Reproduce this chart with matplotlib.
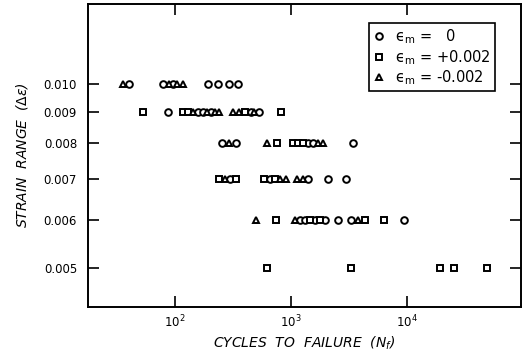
import matplotlib.pyplot as plt
from matplotlib.ticker import FixedLocator, FixedFormatter, NullLocator

# cycles to failure, grouped by strain range and mean strain
strain_levels = [0.010, 0.009, 0.008, 0.007, 0.006, 0.005]
tick_labels = ["0.010", "0.009", "0.008", "0.007", "0.006", "0.005"]

zero_mean = {
    0.010: [40, 80, 96, 192, 235, 292, 349],
    0.009: [87, 158, 174, 204, 452, 530],
    0.008: [254, 336, 1400, 1550, 3420],
    0.007: [298, 659, 1400, 2080, 2980],
    0.006: [1200, 1320, 1610, 1960, 2540, 3290, 9420],
    0.005: [],
}
plus_mean = {
    0.010: [],
    0.009: [53, 117, 129, 401, 820],
    0.008: [757, 1040, 1150, 1270],
    0.007: [239, 336, 585, 728],
    0.006: [740, 1460, 1780, 4350, 6340],
    0.005: [620, 3290, 19200, 25400, 49000],
}
minus_mean = {
    0.010: [36, 89, 104, 117],
    0.009: [143, 189, 221, 239, 316, 356, 480],
    0.008: [292, 621, 1710, 1890],
    0.007: [270, 804, 906, 1130, 1270],
    0.006: [500, 1080, 3780],
    0.005: [],
}


def flatten(groups):
    xs, ys = [], []
    for level in strain_levels:
        for n in groups[level]:
            xs.append(n)
            ys.append(level)
    return xs, ys


def main():
    plt.rcParams["font.family"] = "DejaVu Sans"
    fig = plt.figure(figsize=(5.25, 3.61), dpi=100)
    ax = fig.add_axes([0.168, 0.150, 0.824, 0.839])

    eps = "$\\mathrm{\u03f5_m}$"
    series = [
        (zero_mean, "o", eps + " =   0"),
        (plus_mean, "s", eps + " = +0.002"),
        (minus_mean, "^", eps + " = -0.002"),
    ]
    for groups, marker, label in series:
        xs, ys = flatten(groups)
        ax.plot(xs, ys, linestyle="none", marker=marker, markersize=4.8,
                markerfacecolor="white", markeredgecolor="black",
                markeredgewidth=1.4, label=label)

    ax.set_xscale("log")
    ax.set_yscale("log")
    ax.set_xlim(18, 95000)
    ax.set_ylim(0.00432, 0.0135)

    ax.xaxis.set_major_locator(FixedLocator([1e2, 1e3, 1e4]))
    ax.xaxis.set_major_formatter(
        FixedFormatter([r"$10^2$", r"$10^3$", r"$10^4$"]))
    ax.xaxis.set_minor_locator(NullLocator())
    ax.yaxis.set_major_locator(FixedLocator(strain_levels))
    ax.yaxis.set_major_formatter(FixedFormatter(tick_labels))
    ax.yaxis.set_minor_locator(NullLocator())

    ax.tick_params(axis="both", which="major", direction="in", length=8,
                   width=1.2, top=True, right=True, labelsize=8.5)
    ax.tick_params(axis="x", pad=5)
    ax.tick_params(axis="y", pad=8)
    for spine in ax.spines.values():
        spine.set_linewidth(1.4)

    ax.set_xlabel(r"CYCLES  TO  FAILURE  ($N_f$)", fontsize=10,
                  style="italic", labelpad=3)
    ax.set_ylabel(r"STRAIN  RANGE  ($\Delta\epsilon$)", fontsize=10,
                  style="italic", labelpad=10)

    leg = ax.legend(loc="upper right", bbox_to_anchor=(0.941, 0.937),
                    borderaxespad=0, fontsize=10.5, handlelength=0.8,
                    handletextpad=0.7, borderpad=0.3, labelspacing=0.12,
                    fancybox=False, edgecolor="black", framealpha=1)
    leg.get_frame().set_linewidth(1.2)

    fig.savefig("out.png", dpi=100)


if __name__ == "__main__":
    main()
